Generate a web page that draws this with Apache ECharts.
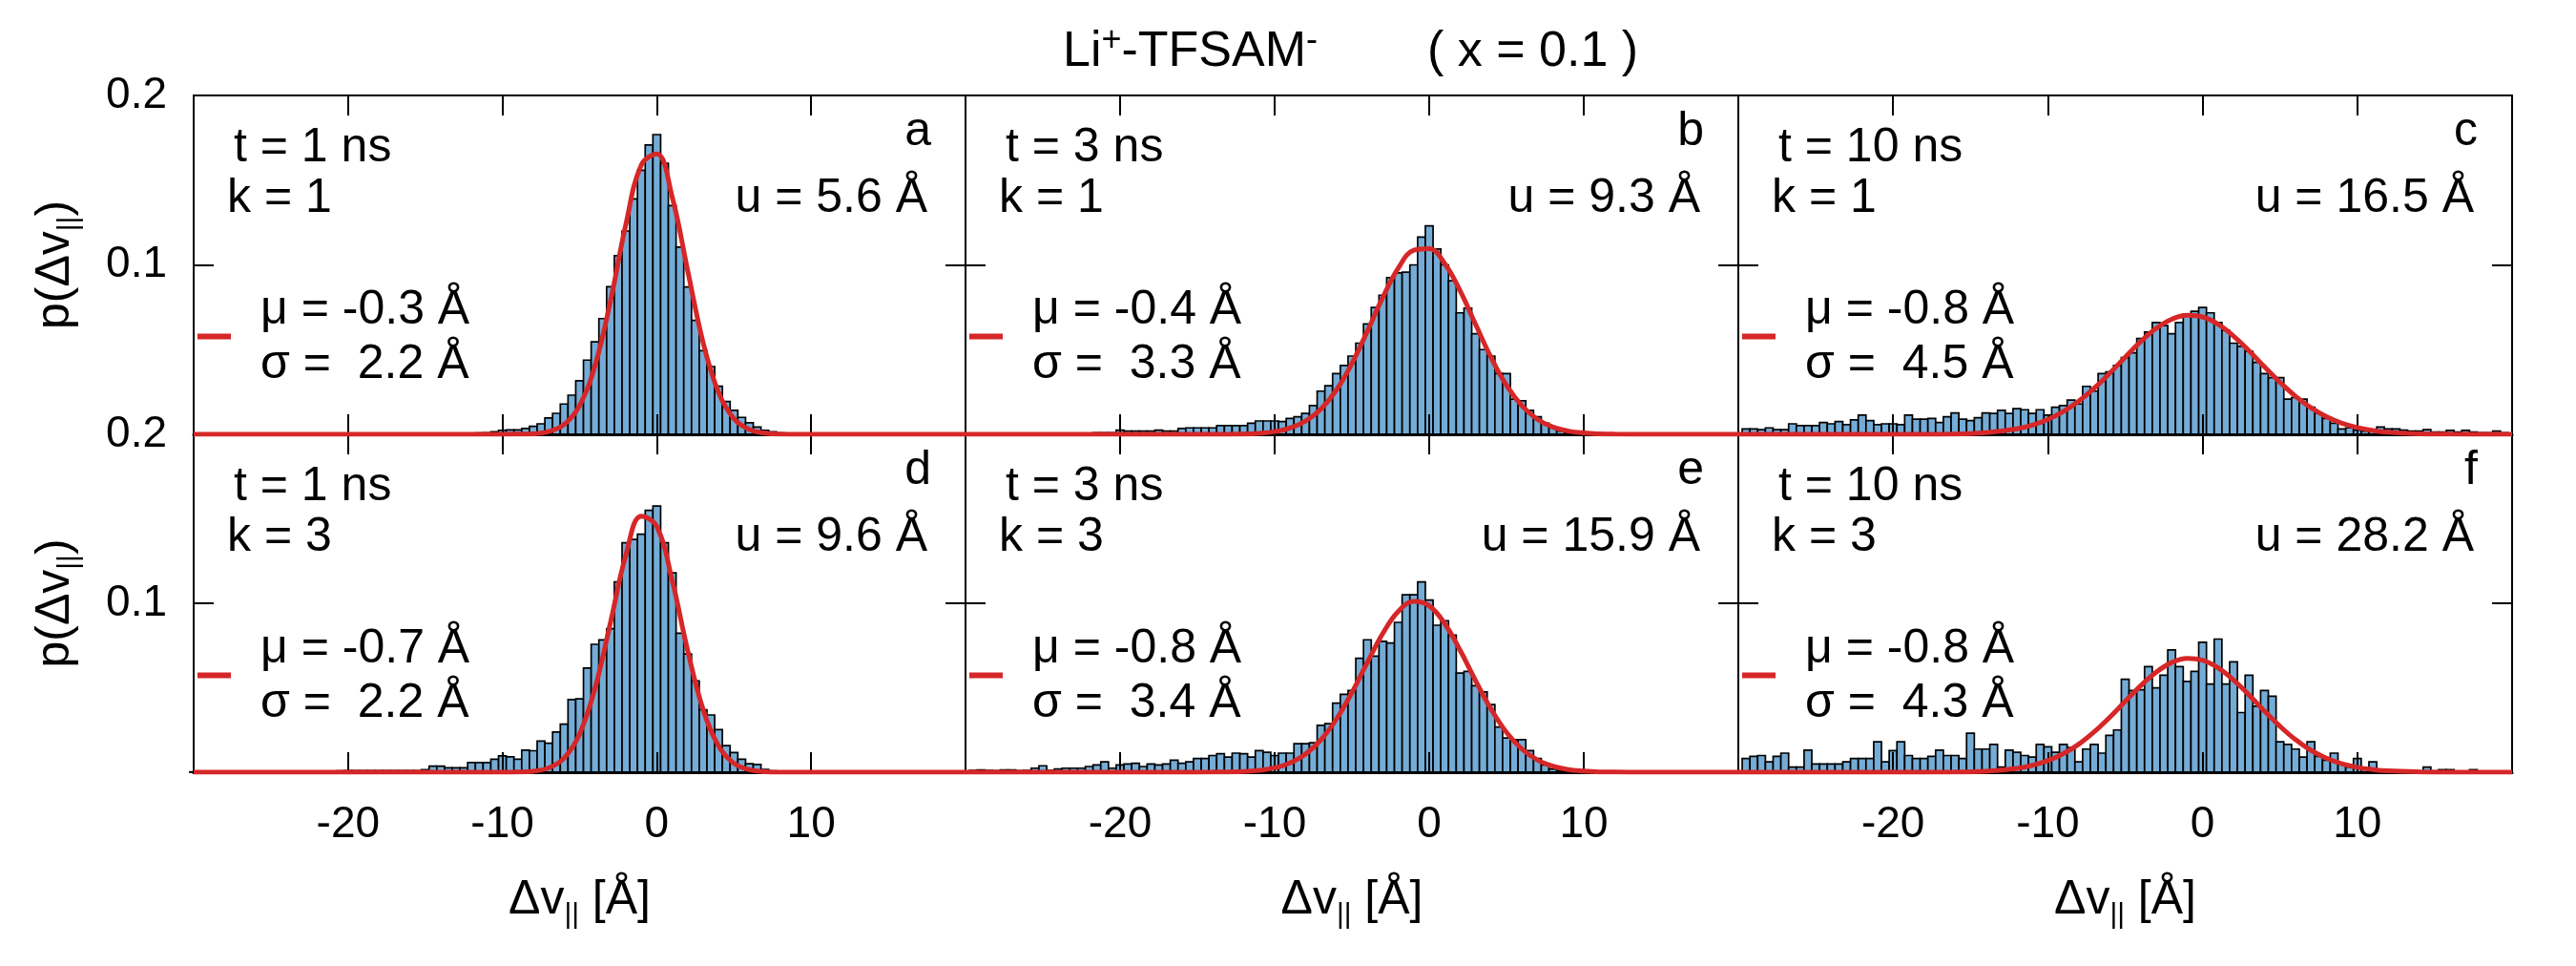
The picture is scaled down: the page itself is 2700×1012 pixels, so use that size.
<!DOCTYPE html>
<html>
<head>
<meta charset="utf-8">
<title>Li+-TFSAM- (x = 0.1)</title>
<script src="https://cdn.jsdelivr.net/npm/echarts@6/dist/echarts.min.js"></script>
<style>
  html, body { margin: 0; padding: 0; background: #fff; }
  #chart { width: 2700px; height: 1012px; }
</style>
</head>
<body>
<div id="chart"></div>
<script>
// histogram bins are 0.5 A wide, centred on multiples of 0.5
const binWidth = 0.5;

// panel a : t = 1 ns, k = 1
const barsAStart = -12;
const barsA = [
  0.0005, 0.0008, 0.001, 0.0015, 0.0024, 0.0026, 0.0026, 0.0034, 0.0047, 0.0062,
  0.0096, 0.0124, 0.0179, 0.0231, 0.0316, 0.0438, 0.0546, 0.0683, 0.0871, 0.1054,
  0.120, 0.1389, 0.1558, 0.1708, 0.1769, 0.160, 0.135, 0.1105, 0.087, 0.0673,
  0.0494, 0.040, 0.0284, 0.0194, 0.0141, 0.010, 0.0068, 0.0043, 0.0024, 0.0015,
  0.0008
];

// panel b : t = 3 ns, k = 1
const barsBStart = -30;
const barsB = [
  0.0006, 0.0006, 0.0006, 0.0006, 0.0006, 0.0006, 0.0006, 0.0006, 0.0006, 0.0006,
  0.0006, 0.0006, 0.0006, 0.0006, 0.0006, 0.0006, 0.0006, 0.001, 0.001, 0.001,
  0.0025, 0.0019, 0.0019, 0.0019, 0.0019, 0.0025, 0.0019, 0.0019, 0.0034, 0.0038,
  0.0038, 0.0038, 0.0038, 0.0051, 0.0051, 0.0051, 0.0051, 0.0066, 0.0079, 0.0079,
  0.0079, 0.0075, 0.0094, 0.0104, 0.0123, 0.017, 0.0255, 0.0287, 0.0359, 0.0406,
  0.0462, 0.0538, 0.0651, 0.0749, 0.0821, 0.0925, 0.0953, 0.0957, 0.100, 0.1164,
  0.123, 0.1094, 0.100, 0.0906, 0.0717, 0.0745, 0.0594, 0.050, 0.0462, 0.0359,
  0.0359, 0.0208, 0.0198, 0.0142, 0.0104, 0.0066, 0.0038, 0.0019, 0.001, 0.0005,
  0.0003
];

// panel c : t = 10 ns, k = 1
const barsCStart = -29.5;
const barsC = [
  0.0032, 0.0032, 0.0028, 0.0038, 0.0028, 0.0028, 0.0062, 0.0051, 0.0051, 0.0051,
  0.007, 0.0062, 0.0075, 0.0057, 0.0085, 0.0113, 0.0081, 0.0057, 0.0062, 0.0062,
  0.0057, 0.0113, 0.0089, 0.0089, 0.0094, 0.007, 0.0104, 0.0126, 0.0089, 0.0081,
  0.0098, 0.0126, 0.0123, 0.0142, 0.0123, 0.0151, 0.0145, 0.0123, 0.0145, 0.0113,
  0.016, 0.017, 0.0202, 0.0179, 0.0283, 0.0255, 0.0359, 0.0368, 0.0406, 0.0453,
  0.0481, 0.0566, 0.0604, 0.066, 0.0642, 0.0594, 0.066, 0.0711, 0.0726, 0.0749,
  0.0717, 0.066, 0.0613, 0.0538, 0.0519, 0.049, 0.0425, 0.0359, 0.0334, 0.0334,
  0.0208, 0.0217, 0.0208, 0.016, 0.0123, 0.0094, 0.0066, 0.0032, 0.0038, 0.0025,
  0.0019, 0.0019, 0.0043, 0.0032, 0.0032, 0.0025, 0.0019, 0.0019, 0.0028, 0.0013,
  0.0013, 0.0023, 0.0013, 0.0023, 0.0013, 0.001, 0.001, 0.0019, 0.001
];

// panel d : t = 1 ns, k = 3
const barsDStart = -30;
const barsD = [
  0.0002, 0.0002, 0.0002, 0.0002, 0.0002, 0.0002, 0.0002, 0.0002, 0.0002, 0.0002,
  0.0003, 0.0003, 0.0004, 0.0004, 0.0005, 0.0005, 0.0005, 0.0006, 0.0006, 0.0008,
  0.001, 0.001, 0.001, 0.001, 0.001, 0.001, 0.001, 0.001, 0.001, 0.001,
  0.0015, 0.0036, 0.0036, 0.0026, 0.0026, 0.0026, 0.0057, 0.0057, 0.0057, 0.0077,
  0.0097, 0.0091, 0.0077, 0.0131, 0.0127, 0.0184, 0.0172, 0.0238, 0.0285, 0.043,
  0.0434, 0.0616, 0.0757, 0.0783, 0.085, 0.1126, 0.1358, 0.1378, 0.1409, 0.155,
  0.1576, 0.1358, 0.118, 0.0823, 0.070, 0.0541, 0.0369, 0.0339, 0.0252, 0.0157,
  0.0117, 0.0077, 0.005, 0.0046, 0.0016, 0.0008, 0.0003
];

// panel e : t = 3 ns, k = 3
const barsEStart = -29.5;
const barsE = [
  0.0011, 0.0013, 0.0011, 0.0009, 0.0013, 0.0013, 0.0009, 0.0011, 0.0024, 0.0038,
  0.0011, 0.0019, 0.0024, 0.0024, 0.0024, 0.0034, 0.0043, 0.0062, 0.0024, 0.0043,
  0.0049, 0.0053, 0.0034, 0.0049, 0.0043, 0.0049, 0.0071, 0.0053, 0.0062, 0.0081,
  0.0081, 0.0099, 0.0109, 0.009, 0.0113, 0.0109, 0.009, 0.0128, 0.0118, 0.0099,
  0.0113, 0.0113, 0.0169, 0.0169, 0.0174, 0.0278, 0.0287, 0.0409, 0.0461, 0.0484,
  0.0675, 0.0784, 0.0687, 0.0775, 0.0765, 0.0887, 0.105, 0.105, 0.1126, 0.1019,
  0.087, 0.0897, 0.0812, 0.0587, 0.0597, 0.0512, 0.0475, 0.040, 0.0268, 0.0203,
  0.0193, 0.0193, 0.0128, 0.0081, 0.0043, 0.0019, 0.0011, 0.0005
];

// panel f : t = 10 ns, k = 3
const barsFStart = -29.5;
const barsF = [
  0.0081, 0.0094, 0.0099, 0.0062, 0.0094, 0.0113, 0.003, 0.003, 0.0131, 0.0049,
  0.0049, 0.0049, 0.0049, 0.0062, 0.0081, 0.0081, 0.0081, 0.018, 0.0062, 0.0128,
  0.018, 0.0099, 0.0081, 0.0081, 0.0094, 0.0131, 0.0099, 0.0099, 0.0081, 0.0231,
  0.0137, 0.0137, 0.0165, 0.003, 0.0131, 0.0118, 0.0099, 0.009, 0.0165, 0.015,
  0.0118, 0.0165, 0.0146, 0.0062, 0.0137, 0.0165, 0.0113, 0.0218, 0.025, 0.055,
  0.0484, 0.0488, 0.0625, 0.0499, 0.0574, 0.0724, 0.0625, 0.0537, 0.0597, 0.0769,
  0.0522, 0.0788, 0.0522, 0.0653, 0.0353, 0.0574, 0.039, 0.0484, 0.045, 0.018,
  0.0165, 0.0137, 0.009, 0.018, 0.0094, 0.0071, 0.0113, 0.0049, 0.003, 0.0081,
  0.0019, 0.0062, 0.0011, 0.0004, 0.0004, 0.0004, 0.0004, 0.0004, 0.003, 0.0008,
  0.0015, 0.0015, 0.0004, 0.0004, 0.0015, 0.0004, 0.0004, 0.0004, 0.0004
];

// red fitted curves at these positions
const fitX = [-30, -20, -16, -14, -12, -11, -10, -9, -8, -7, -6, -5, -4, -3, -2, -1,
  0, 1, 2, 3, 4, 5, 6, 7, 8, 9, 10, 11, 12, 14, 16, 20];
const fitA = [0, 0, 0, 0, 0, 0, 0, 0.0001, 0.0003, 0.0016, 0.0058, 0.017, 0.0406, 0.0787, 0.124, 0.159,
  0.1655, 0.140, 0.0967, 0.0542, 0.0247, 0.0092, 0.0028, 0.0007, 0.0001, 0, 0, 0, 0, 0, 0, 0];
const fitB = [0, 0, 0, 0, 0.0002, 0.0006, 0.0016, 0.0037, 0.0078, 0.0149, 0.0262, 0.0418, 0.0609, 0.0809, 0.0981, 0.1086,
  0.1096, 0.1009, 0.0847, 0.0649, 0.0454, 0.0289, 0.0168, 0.0089, 0.0043, 0.0019, 0.0008, 0.0003, 0.0001, 0, 0, 0];
const fitC = [0, 0, 0.0002, 0.001, 0.0032, 0.0054, 0.0087, 0.0134, 0.0196, 0.0272, 0.0361, 0.0455, 0.0547, 0.0625, 0.0679, 0.0703,
  0.0693, 0.065, 0.058, 0.0493, 0.0398, 0.0307, 0.0225, 0.0157, 0.0104, 0.0066, 0.004, 0.0023, 0.0012, 0.0003, 0.0001, 0];
const fitD = [0, 0, 0, 0, 0, 0, 0, 0.0001, 0.0006, 0.0025, 0.0084, 0.0226, 0.0497, 0.0886, 0.1285, 0.1516,
  0.1455, 0.1135, 0.0721, 0.0372, 0.0156, 0.0053, 0.0015, 0.0003, 0, 0, 0, 0, 0, 0, 0, 0];
const fitE = [0, 0, 0, 0.0001, 0.0004, 0.0011, 0.0026, 0.0055, 0.0108, 0.0192, 0.0315, 0.0472, 0.065, 0.0822, 0.0952, 0.1011,
  0.0985, 0.088, 0.0722, 0.0542, 0.0374, 0.0236, 0.0137, 0.0073, 0.0036, 0.0016, 0.0007, 0.0002, 0.0001, 0, 0, 0];
const fitF = [0, 0, 0.0001, 0.0006, 0.0023, 0.0041, 0.0068, 0.011, 0.0166, 0.0239, 0.0325, 0.0419, 0.0512, 0.0592, 0.0649, 0.0674,
  0.0663, 0.0618, 0.0546, 0.0457, 0.0362, 0.0272, 0.0193, 0.013, 0.0083, 0.005, 0.0029, 0.0016, 0.0008, 0.0002, 0, 0];

// panel annotations
const letters = ['a', 'b', 'c', 'd', 'e', 'f'];
const tLabels = ['t = 1 ns', 't = 3 ns', 't = 10 ns', 't = 1 ns', 't = 3 ns', 't = 10 ns'];
const kLabels = ['k = 1', 'k = 1', 'k = 1', 'k = 3', 'k = 3', 'k = 3'];
const uLabels = ['u = 5.6 Å', 'u = 9.3 Å', 'u = 16.5 Å', 'u = 9.6 Å', 'u = 15.9 Å', 'u = 28.2 Å'];
const muLabels = ['μ = -0.3 Å', 'μ = -0.4 Å', 'μ = -0.8 Å', 'μ = -0.7 Å', 'μ = -0.8 Å', 'μ = -0.8 Å'];
const sigmaLabels = ['σ =  2.2 Å', 'σ =  3.3 Å', 'σ =  4.5 Å', 'σ =  2.2 Å', 'σ =  3.4 Å', 'σ =  4.3 Å'];

const barStarts = [barsAStart, barsBStart, barsCStart, barsDStart, barsEStart, barsFStart];
const barSets = [barsA, barsB, barsC, barsD, barsE, barsF];
const fitSets = [fitA, fitB, fitC, fitD, fitE, fitF];

// layout
const FONT = 'Liberation Sans';
const colLeft = [203, 1012, 1822];
const colWidth = [809, 810, 811];
const rowTop = [100, 455];
const rowHeight = [355, 354];
const barColor = '#74acd6';
const fitColor = '#d62728';

const chart = echarts.init(document.getElementById('chart'), null, { renderer: 'canvas' });

const grids = [], xAxes = [], yAxes = [], series = [], graphics = [];

const frameLine = { show: true, onZero: false, lineStyle: { color: '#000', width: 2 } };
const baseLine = { show: true, onZero: false, lineStyle: { color: '#000', width: 3 } };
const tickStyle = { show: true, inside: true, length: 21, lineStyle: { color: '#000', width: 2 } };

// baseline -> y of text middle (canvas "middle" baseline)
function textAt(str, x, baseline, size, align) {
  return {
    type: 'text', x: x, y: baseline - 0.3465 * size, z: 10, silent: true,
    style: {
      text: str, fontSize: size, fontFamily: FONT, fill: '#000', lineHeight: size,
      align: align, textAlign: align, verticalAlign: 'middle', textVerticalAlign: 'middle'
    }
  };
}

for (let i = 0; i < 6; i++) {
  const r = Math.floor(i / 3), c = i % 3;
  const L = colLeft[c], T = rowTop[r], W = colWidth[c], H = rowHeight[r];
  grids.push({ left: L, top: T, width: W, height: H, containLabel: false });

  const xBase = {
    gridIndex: i, type: 'value', min: -30, max: 20, interval: 10, z: 3,
    axisTick: tickStyle, splitLine: { show: false }
  };
  xAxes.push(Object.assign({}, xBase, {
    position: 'bottom',
    axisLine: baseLine,
    axisLabel: {
      show: r === 1, margin: 32, color: '#000', fontSize: 46, fontFamily: FONT,
      formatter: v => (v <= -30 || v >= 20) ? '' : String(v)
    }
  }));
  xAxes.push(Object.assign({}, xBase, { position: 'top', axisLine: frameLine, axisLabel: { show: false } }));

  const yBase = {
    gridIndex: i, type: 'value', min: 0, max: 0.2, interval: 0.1, z: 3,
    axisLine: frameLine, axisTick: tickStyle, splitLine: { show: false }
  };
  yAxes.push(Object.assign({}, yBase, {
    position: 'left',
    axisLabel: {
      show: c === 0, margin: 28, color: '#000', fontSize: 46, fontFamily: FONT,
      formatter: v => v === 0 ? '' : v.toFixed(1)
    }
  }));
  yAxes.push(Object.assign({}, yBase, { position: 'right', axisLabel: { show: false } }));

  const start = barStarts[i];
  series.push({
    type: 'custom',
    xAxisIndex: 2 * i, yAxisIndex: 2 * i,
    silent: true, animation: false,
    data: barSets[i].map((v, k) => [start + k * binWidth, v]),
    renderItem: function (params, api) {
      const x = api.value(0), v = api.value(1);
      const p0 = api.coord([x - binWidth / 2, v]);
      const p1 = api.coord([x + binWidth / 2, 0]);
      return {
        type: 'rect',
        shape: { x: p0[0], y: p0[1], width: p1[0] - p0[0], height: p1[1] - p0[1] },
        style: { fill: barColor, stroke: '#000', lineWidth: 1.7 }
      };
    }
  });

  series.push({
    type: 'line',
    xAxisIndex: 2 * i, yAxisIndex: 2 * i,
    silent: true, animation: false,
    data: fitX.map((x, k) => [x, fitSets[i][k]]),
    smooth: 0.4, symbol: 'none', showSymbol: false,
    lineStyle: { color: fitColor, width: 5 }
  });

  // panel texts
  graphics.push(textAt(tLabels[i], L + 42, T + 73, 50, 'left'));
  graphics.push(textAt(kLabels[i], L + 35, T + 126, 50, 'left'));
  graphics.push(textAt(letters[i], L + W - 36, T + 56, 50, 'right'));
  graphics.push(textAt(uLabels[i], L + W - 40, T + 126, 50, 'right'));
  graphics.push(textAt(muLabels[i], L + 70, T + 242.5, 50, 'left'));
  graphics.push(textAt(sigmaLabels[i], L + 70, T + 299.5, 50, 'left'));
  graphics.push({
    type: 'line', z: 10, silent: true,
    shape: { x1: L + 4, y1: T + 252.5, x2: L + 39, y2: T + 252.5 },
    style: { stroke: fitColor, lineWidth: 6 }
  });
}

// title
graphics.push({
  type: 'text', x: 1114, y: 72.7 - 0.3465 * 52, z: 10, silent: true,
  style: {
    text: '{m|Li}{s|+}{m|-TFSAM}{s|-}',
    align: 'left', textAlign: 'left', verticalAlign: 'middle', textVerticalAlign: 'middle',
    fill: '#000',
    rich: {
      m: { fontSize: 52, fontFamily: FONT, lineHeight: 60, fill: '#000' },
      s: { fontSize: 36, fontFamily: FONT, lineHeight: 38, verticalAlign: 'top', fill: '#000' }
    }
  }
});
graphics.push(textAt('( x = 0.1 )', 1496, 72.7, 52, 'left'));

// x axis names
for (let c = 0; c < 3; c++) {
  graphics.push({
    type: 'text', x: colLeft[c] + colWidth[c] / 2, y: 960.7 - 0.3465 * 50, z: 10, silent: true,
    style: {
      text: '{m|Δv}{s|||}{m| [Å]}',
      align: 'center', textAlign: 'center', verticalAlign: 'middle', textVerticalAlign: 'middle',
      fill: '#000',
      rich: {
        m: { fontSize: 50, fontFamily: FONT, lineHeight: 60, fill: '#000' },
        s: { fontSize: 30, fontFamily: FONT, lineHeight: 17, verticalAlign: 'bottom', fill: '#000' }
      }
    }
  });
}

// y axis names
for (let r = 0; r < 2; r++) {
  graphics.push({
    type: 'text', x: 58, y: rowTop[r] + rowHeight[r] / 2, rotation: Math.PI / 2, z: 10, silent: true,
    style: {
      text: '{m|p(Δv}{s|||}{m|)}',
      align: 'center', textAlign: 'center', verticalAlign: 'middle', textVerticalAlign: 'middle',
      fill: '#000',
      rich: {
        m: { fontSize: 50, fontFamily: FONT, lineHeight: 60, fill: '#000' },
        s: { fontSize: 30, fontFamily: FONT, lineHeight: 17, verticalAlign: 'bottom', fill: '#000' }
      }
    }
  });
}

chart.setOption({
  animation: false,
  backgroundColor: '#fff',
  grid: grids,
  xAxis: xAxes,
  yAxis: yAxes,
  series: series,
  graphic: graphics
});

window.onresize = function () {
  chart.resize();
};
</script>
</body>
</html>
